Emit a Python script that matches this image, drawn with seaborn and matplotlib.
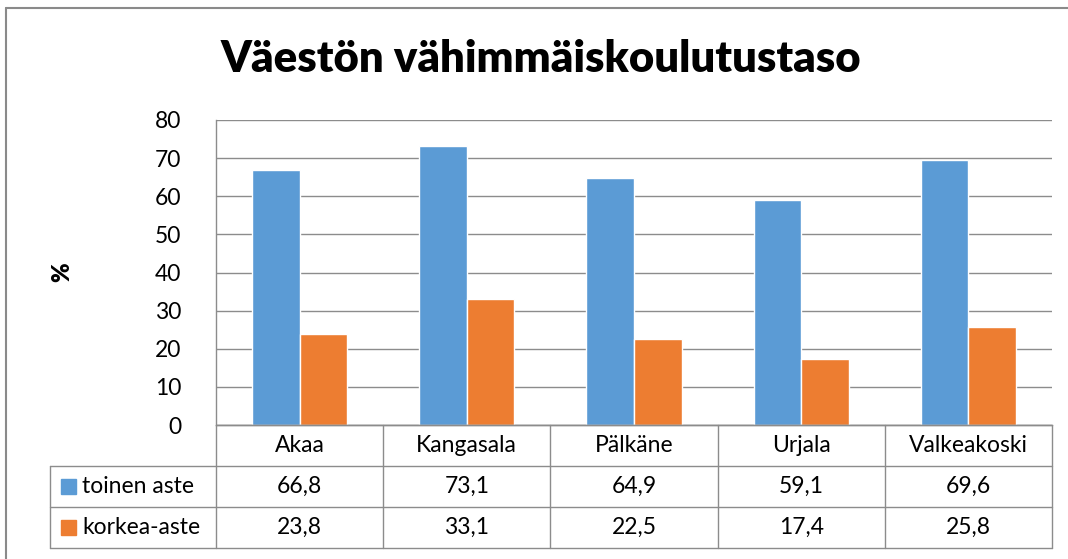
import matplotlib
matplotlib.use("Agg")
import matplotlib.pyplot as plt
import matplotlib.transforms as mtransforms
from matplotlib.lines import Line2D
from matplotlib.patches import Rectangle
import seaborn as sns
import pandas as pd

# ---- data ----
categories = ["Akaa", "Kangasala", "Pälkäne", "Urjala", "Valkeakoski"]
series_names = ["toinen aste", "korkea-aste"]
toinen_aste = [66.8, 73.1, 64.9, 59.1, 69.6]
korkea_aste = [23.8, 33.1, 22.5, 17.4, 25.8]
y_ticks = [0, 10, 20, 30, 40, 50, 60, 70, 80]
title = "Väestön vähimmäiskoulutustaso"
y_label = "%"
colors = ["#5B9BD5", "#ED7D31"]

sns.set_theme(style="white")
plt.rcParams['font.family'] = ['Lato', 'DejaVu Sans']
plt.rcParams['text.color'] = 'black'
plt.rcParams['ytick.color'] = 'black'
plt.rcParams['xtick.color'] = 'black'

df = pd.DataFrame({
    "kunta": categories * 2,
    "sarja": [series_names[0]] * len(categories) + [series_names[1]] * len(categories),
    "arvo": toinen_aste + korkea_aste,
})

W, H = 1068, 559
fig = plt.figure(figsize=(W / 100, H / 100), dpi=100)
fig.patch.set_facecolor("white")

def fy(py):
    return 1 - py / H

def fx(px):
    return px / W

FS = 16.5

ax = fig.add_axes([fx(216), fy(425), fx(1052) - fx(216), fy(120) - fy(425)])
sns.barplot(data=df, x="kunta", y="arvo", hue="sarja", order=categories,
            hue_order=series_names, palette=colors, width=0.57, gap=0,
            saturation=1, legend=False, ax=ax)

grid_c = "#8c8c8c"
ax.set_xlim(-0.5, len(categories) - 0.5)
ax.set_ylim(0, 80)
ax.set_yticks(y_ticks)
ax.set_yticklabels([str(v) for v in y_ticks], fontsize=FS, color="black")
ax.set_xticks([])
ax.set_xlabel("")
ax.set_ylabel("")
ax.tick_params(axis="y", length=0, pad=25)
ax.yaxis.grid(True, color=grid_c, lw=1)
ax.set_axisbelow(True)
for s in ["top", "right"]:
    ax.spines[s].set_visible(False)
for s in ["left", "bottom"]:
    ax.spines[s].set_color(grid_c)
    ax.spines[s].set_linewidth(1)

# y label
fig.text(fx(62), fy(272), y_label, rotation=90, fontsize=17, fontweight="heavy",
         ha="center", va="center", color="black")

# title
fig.text(0.506, fy(59), title, fontsize=31.4, fontweight="heavy",
         ha="center", va="center", color="black")

# outer frame (top/left visible)
fig.add_artist(Line2D([fx(6), 1.0], [fy(8), fy(8)], color="#8a8a8a", lw=1.5))
fig.add_artist(Line2D([fx(6), fx(6)], [fy(8), 0.0], color="#8a8a8a", lw=1.5))

# data table
tx = mtransforms.blended_transform_factory(ax.transData, fig.transFigure)
ta = mtransforms.blended_transform_factory(ax.transAxes, fig.transFigure)
rows = [425, 466, 507, 548]
left_tab = (50 - 216) / (1052 - 216)

for i, r in enumerate(rows):
    x0 = 0 if i == 0 else left_tab
    ax.add_artist(Line2D([x0, 1], [fy(r), fy(r)], transform=ta, color=grid_c,
                         lw=1, clip_on=False))
for k in range(len(categories) + 1):
    xv = k - 0.5
    ax.add_artist(Line2D([xv, xv], [fy(rows[0]), fy(rows[3])], transform=tx,
                         color=grid_c, lw=1, clip_on=False))
ax.add_artist(Line2D([left_tab, left_tab], [fy(rows[1]), fy(rows[3])], transform=ta,
                     color=grid_c, lw=1, clip_on=False))

for i, c in enumerate(categories):
    ax.text(i, fy((rows[0] + rows[1]) / 2), c, transform=tx, ha="center",
            va="center", fontsize=FS, clip_on=False, color="black")
for ri, vals in enumerate([toinen_aste, korkea_aste]):
    yc = fy((rows[ri + 1] + rows[ri + 2]) / 2)
    for i, v in enumerate(vals):
        ax.text(i, yc, f"{v:.1f}".replace(".", ","), transform=tx, ha="center",
                va="center", fontsize=FS, clip_on=False, color="black")
    fig.add_artist(Rectangle((fx(61), yc - 7.5 / H), 15 / W, 15 / H,
                             color=colors[ri], transform=fig.transFigure))
    fig.text(fx(82), yc, series_names[ri], ha="left", va="center", fontsize=FS,
             color="black")

fig.savefig("out.png", dpi=100)
